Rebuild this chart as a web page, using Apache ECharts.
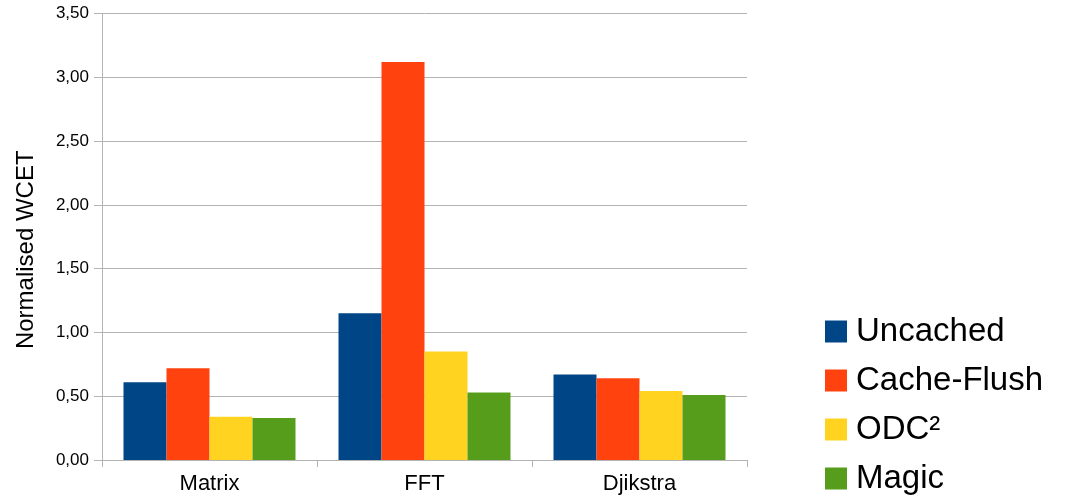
<!DOCTYPE html>
<html>
<head>
<meta charset="utf-8">
<script src="https://cdn.jsdelivr.net/npm/echarts@6/dist/echarts.min.js"></script>
<style>html,body{margin:0;padding:0;background:#fff}#c{width:1075px;height:499px}</style>
</head>
<body>
<div id="c"></div>
<script>
const categories = ['Matrix', 'FFT', 'Djikstra'];
const uncached = [0.61, 1.15, 0.67];
const cacheFlush = [0.72, 3.12, 0.64];
const odc2 = [0.34, 0.85, 0.54];
const magic = [0.33, 0.53, 0.51];
const seriesNames = ['Uncached', 'Cache-Flush', 'ODC²', 'Magic'];
const colors = ['#004586', '#ff420e', '#ffd320', '#579d1c'];
const yTicks = { min: 0, max: 3.5, interval: 0.5 };

const font = '"Liberation Sans", Arial, sans-serif';
const chart = echarts.init(document.getElementById('c'), null, { renderer: 'canvas' });
const values = [uncached, cacheFlush, odc2, magic];
chart.setOption({
  animation: false,
  backgroundColor: '#fff',
  grid: { left: 102, right: 328, top: 13.5, bottom: 39, containLabel: false },
  legend: {
    orient: 'vertical',
    left: 825,
    top: 315,
    height: 260,
    padding: 0,
    itemWidth: 22,
    itemHeight: 22,
    itemGap: 16,
    icon: 'rect',
    data: seriesNames,
    textStyle: { fontFamily: font, fontSize: 33, color: '#000', lineHeight: 30, padding: [0, 0, 0, 4] }
  },
  xAxis: {
    type: 'category',
    data: categories,
    axisLine: { lineStyle: { color: '#b3b3b3', width: 1 } },
    axisTick: { show: true, length: 7, lineStyle: { color: '#b3b3b3' } },
    axisLabel: { fontFamily: font, fontSize: 22, color: '#000', margin: 13 }
  },
  yAxis: {
    type: 'value',
    min: yTicks.min, max: yTicks.max, interval: yTicks.interval,
    name: 'Normalised WCET',
    nameLocation: 'middle',
    nameGap: 64,
    nameTextStyle: { fontFamily: font, fontSize: 24, color: '#000', padding: [0, 26, 0, 0] },
    axisLine: { show: true, lineStyle: { color: '#b3b3b3', width: 1 } },
    axisTick: { show: true, length: 8, lineStyle: { color: '#b3b3b3' } },
    splitLine: { lineStyle: { color: '#b3b3b3', width: 1 } },
    axisLabel: {
      fontFamily: font, fontSize: 17, color: '#000', margin: 13,
      formatter: v => v.toFixed(2).replace('.', ',')
    }
  },
  series: seriesNames.map((n, i) => ({
    name: n,
    type: 'bar',
    data: values[i],
    barGap: '0%',
    barCategoryGap: '20%',
    itemStyle: { color: colors[i] }
  }))
});
</script>
</body>
</html>
